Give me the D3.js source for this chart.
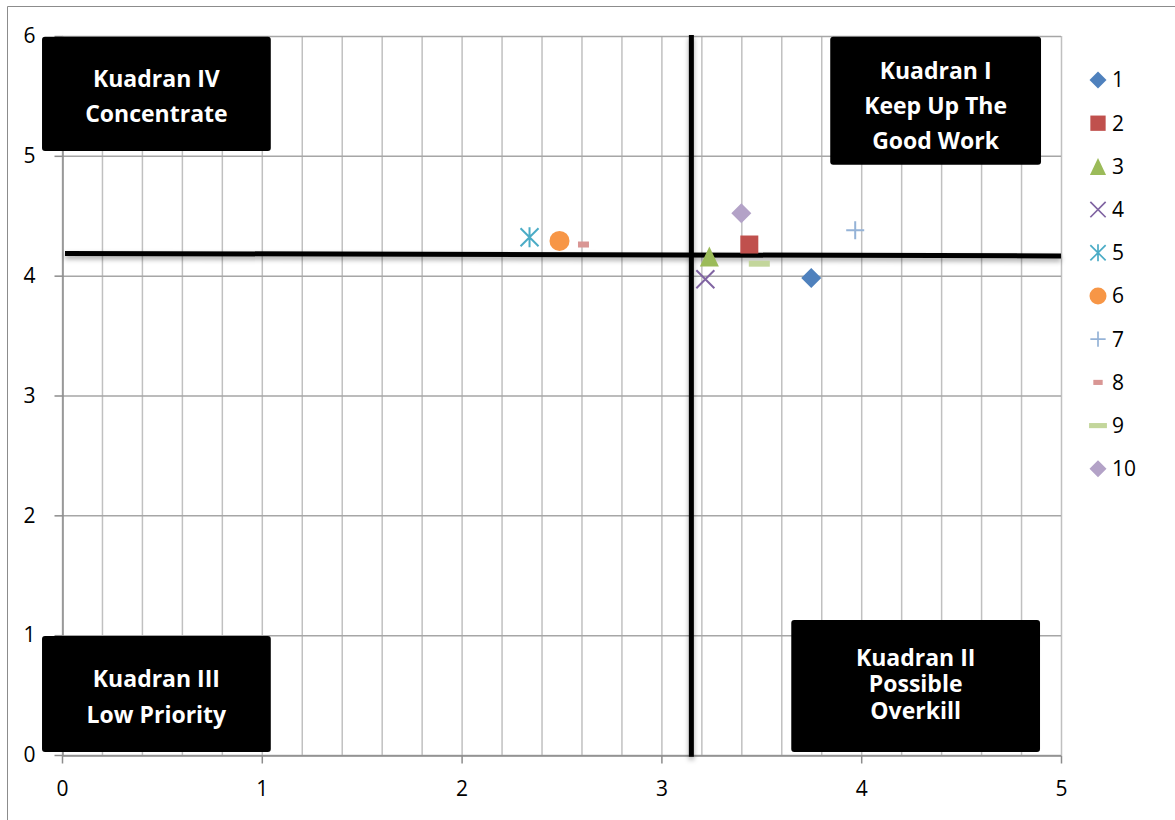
<!DOCTYPE html>
<html lang="id">
<head>
  <meta charset="UTF-8">
  <script src="https://d3js.org/d3.v7.min.js"></script>
  <title>Kuadran</title>
  <style>
    body { margin: 0; background: #fff; }
    svg { display: block; font-family: "Open Sans", sans-serif; }
  </style>
</head>
<body>
  <svg width="1175" height="820"></svg>
  <script>
    // data titik (x, y) tiap atribut
    const seriesNames = ["1", "2", "3", "4", "5", "6", "7", "8", "9", "10"];
    const xValues = [3.75, 3.44, 3.24, 3.22, 2.34, 2.49, 3.97, 2.61, 3.49, 3.40];
    const yValues = [3.98, 4.26, 4.16, 3.97, 4.32, 4.29, 4.38, 4.26, 4.10, 4.52];
    const xTicks = [0, 1, 2, 3, 4, 5];
    const yTicks = [0, 1, 2, 3, 4, 5, 6];

    // garis pembagi kuadran (rata-rata)
    const meanX = 3.15;
    const meanYLeft = 4.186;
    const meanYRight = 4.165;

    const quadrantLabels = [
      ["Kuadran IV", "Concentrate"],
      ["Kuadran I", "Keep Up The", "Good Work"],
      ["Kuadran III", "Low Priority"],
      ["Kuadran II", "Possible", "Overkill"]
    ];

    const colors = ["#4F81BD", "#C0504D", "#9BBB59", "#8064A2", "#4BACC6",
                    "#F79646", "#95B3D7", "#D99694", "#C3D69B", "#B3A2C7"];
    const shapes = ["diamond", "square", "triangle", "x", "star", "circle", "plus", "shortdash", "dash", "diamond"];

    // kotak kuadran dalam satuan data: [x0, x1, y0, y1, jarak baris, geser teks]
    const boxLayout = [
      [-0.1, 1.045, 5.993, 5.04, 35, 3],
      [3.845, 4.9, 5.993, 4.925, 35, 5],
      [-0.1, 1.045, 0.993, 0.025, 36, 3],
      [3.65, 4.895, 1.127, 0.025, 26.5, -2]
    ];

    const svg = d3.select("svg");
    const x = d3.scaleLinear().domain([0, 5]).range([62, 1061]);
    const y = d3.scaleLinear().domain([0, 6]).range([755, 36]);

    // bingkai
    svg.append("path")
      .attr("d", "M7.5,820 V6.5 H1175")
      .attr("fill", "none").attr("stroke", "#8c8c8c").attr("stroke-width", 1);

    const defs = svg.append("defs");
    defs.append("filter").attr("id", "shadow")
      .attr("filterUnits", "userSpaceOnUse")
      .attr("x", 0).attr("y", 0).attr("width", 1175).attr("height", 820)
      .append("feDropShadow")
      .attr("dx", 0).attr("dy", 3).attr("stdDeviation", 2.5)
      .attr("flood-color", "#000").attr("flood-opacity", 0.35);

    // grid vertikal tiap 0.2
    const minor = d3.range(0, 5.001, 0.2);
    svg.append("g").selectAll("line").data(minor).join("line")
      .attr("x1", d => x(d) + 0.5).attr("x2", d => x(d) + 0.5)
      .attr("y1", y(6)).attr("y2", y(0))
      .attr("stroke", "#c0c0c0").attr("stroke-width", 1.5);

    // grid horizontal
    svg.append("g").selectAll("line").data(yTicks).join("line")
      .attr("x1", x(0)).attr("x2", x(5))
      .attr("y1", d => y(d) + 0.5).attr("y2", d => y(d) + 0.5)
      .attr("stroke", "#a6a6a6").attr("stroke-width", 1.5);

    const xAxis = svg.append("g").attr("transform", `translate(0,${y(0) + 0.5})`)
      .call(d3.axisBottom(x).tickValues(xTicks).tickSize(8).tickSizeOuter(0).tickPadding(18).tickFormat(d3.format("d")));
    const yAxis = svg.append("g").attr("transform", `translate(${x(0) + 0.5},0)`)
      .call(d3.axisLeft(y).tickValues(yTicks).tickSize(8).tickSizeOuter(0).tickPadding(19).tickFormat(d3.format("d")));
    [xAxis, yAxis].forEach(g => {
      g.select(".domain").attr("stroke", "#8c8c8c").attr("stroke-width", 1.5);
      g.selectAll(".tick line").attr("stroke", "#8c8c8c").attr("stroke-width", 1.5);
      g.selectAll("text").attr("font-size", 21).attr("fill", "#000").attr("font-family", "Open Sans");
    });

    // garis kuadran
    svg.append("line")
      .attr("x1", x(0.015)).attr("x2", x(5))
      .attr("y1", y(meanYLeft)).attr("y2", y(meanYRight))
      .attr("stroke", "#000").attr("stroke-width", 5).attr("filter", "url(#shadow)");
    svg.append("line")
      .attr("x1", x(meanX)).attr("x2", x(meanX))
      .attr("y1", y(6) - 1).attr("y2", y(-0.015))
      .attr("stroke", "#000").attr("stroke-width", 5).attr("filter", "url(#shadow)");

    // penanda
    function drawMarker(g, shape, color) {
      if (shape === "diamond") {
        g.append("path").attr("d", "M0,-10 L10,0 L0,10 L-10,0 Z").attr("fill", color);
      } else if (shape === "square") {
        g.append("rect").attr("x", -9).attr("y", -9).attr("width", 18).attr("height", 18).attr("fill", color);
      } else if (shape === "triangle") {
        g.append("path").attr("d", "M0,-10 L9.5,10 L-9.5,10 Z").attr("fill", color);
      } else if (shape === "circle") {
        g.append("circle").attr("r", 10).attr("fill", color);
      } else if (shape === "x") {
        g.append("path").attr("d", "M-9,-9 L9,9 M9,-9 L-9,9").attr("stroke", color).attr("stroke-width", 2);
      } else if (shape === "plus") {
        g.append("path").attr("d", "M-9,0 L9,0 M0,-9 L0,9").attr("stroke", color).attr("stroke-width", 2);
      } else if (shape === "star") {
        g.append("path").attr("d", "M0,-10 L0,10 M-9,-9 L9,9 M9,-9 L-9,9").attr("stroke", color).attr("stroke-width", 2);
      } else if (shape === "shortdash") {
        g.append("rect").attr("x", -5.5).attr("y", -3).attr("width", 11).attr("height", 6).attr("fill", color);
      } else if (shape === "dash") {
        g.append("rect").attr("x", -10.5).attr("y", -3).attr("width", 21).attr("height", 6).attr("fill", color);
      }
    }

    const points = seriesNames.map((name, i) => ({ name, x: xValues[i], y: yValues[i], color: colors[i], shape: shapes[i] }));

    svg.append("g").selectAll("g").data(points).join("g")
      .attr("transform", d => `translate(${x(d.x)},${y(d.y)})`)
      .each(function (d) { drawMarker(d3.select(this), d.shape, d.color); });

    // kotak kuadran
    quadrantLabels.forEach((lines, i) => {
      const [x0, x1, y0, y1, lh, shift] = boxLayout[i];
      const bx = x(x0), by = y(y0), bw = x(x1) - x(x0), bh = y(y1) - y(y0);
      svg.append("rect")
        .attr("x", bx).attr("y", by).attr("width", bw).attr("height", bh)
        .attr("rx", 3).attr("fill", "#000");
      const cx = bx + bw / 2, cy = by + bh / 2 + shift;
      svg.append("text")
        .attr("text-anchor", "middle").attr("fill", "#fff")
        .attr("font-weight", "bold").attr("font-size", 23)
        .selectAll("tspan").data(lines).join("tspan")
        .attr("x", cx)
        .attr("y", (d, j) => cy + (j - (lines.length - 1) / 2) * lh)
        .attr("dy", "0.35em")
        .text(d => d);
    });

    // legenda
    const legend = svg.append("g").attr("transform", "translate(1098,80)");
    const item = legend.selectAll("g").data(points).join("g")
      .attr("transform", (d, i) => `translate(0,${i * 43.2})`);
    item.each(function (d) {
      const g = d3.select(this).append("g").attr("transform", "scale(0.85)");
      drawMarker(g, d.shape, d.color);
    });
    item.append("text")
      .attr("x", 14).attr("dy", "0.35em")
      .attr("font-size", 21).attr("fill", "#000")
      .text(d => d.name);
  </script>
</body>
</html>
